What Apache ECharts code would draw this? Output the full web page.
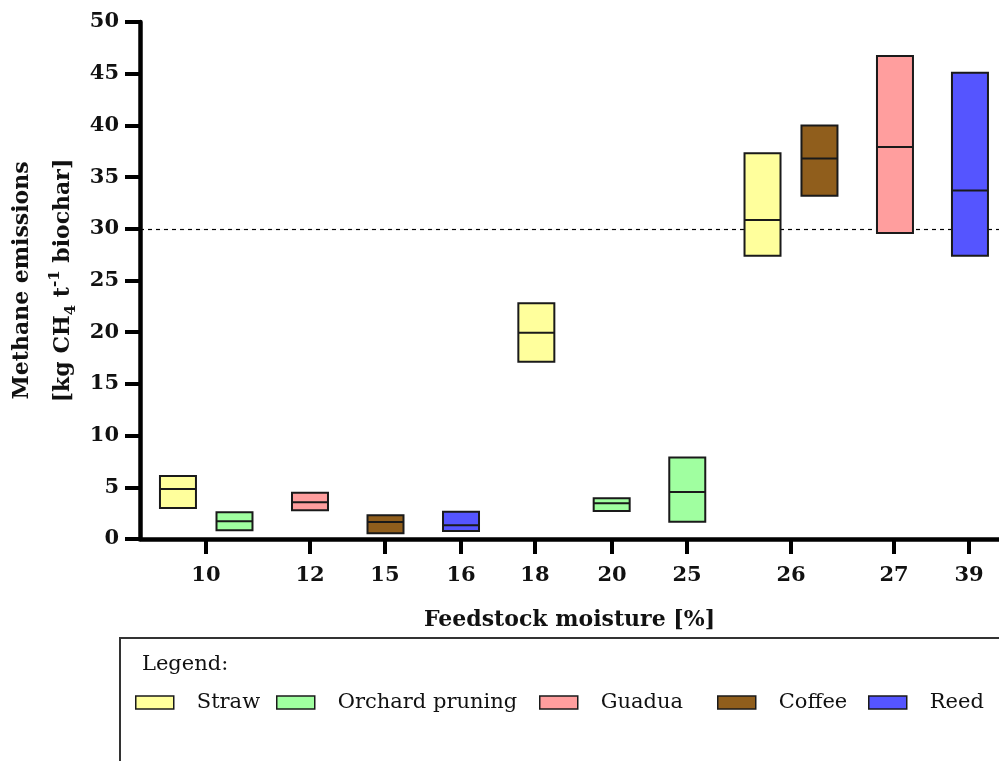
<!DOCTYPE html>
<html>
<head>
<meta charset="utf-8">
<script src="https://cdn.jsdelivr.net/npm/echarts@6/dist/echarts.min.js"></script>
<style>html,body{margin:0;padding:0;background:#fff;}#c{width:999px;height:761px;}</style>
</head>
<body>
<div id="c"></div>
<script>
// x positions are on a 0-100 scale along the axis
const tickPositions = [7.68, 19.79, 28.52, 37.37, 45.98, 54.95, 63.68, 75.79, 87.78, 96.51];
const tickLabels = ['10', '12', '15', '16', '18', '20', '25', '26', '27', '39'];

const species = ['Straw', 'Orchard pruning', 'Guadua', 'Coffee', 'Reed'];
const colors = ['#FFFF9C', '#A0FFA0', '#FF9E9E', '#905E1C', '#5555FF'];

const strawPos = [4.42, 46.14, 72.47];
const strawLow = [3.0, 17.15, 27.4];
const strawMed = [4.84, 19.95, 30.85];
const strawHigh = [6.1, 22.8, 37.3];

const orchardPos = [11.0, 54.91, 63.71];
const orchardLow = [0.84, 2.71, 1.68];
const orchardMed = [1.71, 3.45, 4.55];
const orchardHigh = [2.58, 3.93, 7.87];

const guaduaPos = [19.79, 87.89];
const guaduaLow = [2.77, 29.6];
const guaduaMed = [3.55, 37.9];
const guaduaHigh = [4.48, 46.7];

const coffeePos = [28.58, 79.10];
const coffeeLow = [0.55, 33.2];
const coffeeMed = [1.64, 36.8];
const coffeeHigh = [2.29, 40.0];

const reedPos = [37.37, 96.62];
const reedLow = [0.77, 27.4];
const reedMed = [1.32, 33.7];
const reedHigh = [2.64, 45.1];

const thresholdValue = 30;

const groups = [
  [strawPos, strawLow, strawMed, strawHigh],
  [orchardPos, orchardLow, orchardMed, orchardHigh],
  [guaduaPos, guaduaLow, guaduaMed, guaduaHigh],
  [coffeePos, coffeeLow, coffeeMed, coffeeHigh],
  [reedPos, reedLow, reedMed, reedHigh]
];

const BOX_W = 4.19;
const FONT = 'DejaVu Serif';

function renderItem(params, api) {
  const x = api.value(0), lo = api.value(1), med = api.value(2), hi = api.value(3);
  const pLo = api.coord([x, lo]);
  const pHi = api.coord([x, hi]);
  const pMed = api.coord([x, med]);
  const w = api.size([BOX_W, 0])[0];
  return {
    type: 'group',
    children: [
      { type: 'rect', shape: { x: pLo[0] - w / 2, y: pHi[1], width: w, height: pLo[1] - pHi[1] },
        style: { fill: api.visual('color'), stroke: '#1a1a1a', lineWidth: 2 } },
      { type: 'line', shape: { x1: pMed[0] - w / 2, y1: pMed[1], x2: pMed[0] + w / 2, y2: pMed[1] },
        style: { stroke: '#1a1a1a', lineWidth: 2 } }
    ]
  };
}

const series = species.map((name, i) => {
  const g = groups[i];
  const s = {
    name: name,
    type: 'custom',
    renderItem: renderItem,
    itemStyle: { color: colors[i] },
    encode: { x: 0, y: [1, 2, 3] },
    data: g[0].map((p, k) => [p, g[1][k], g[2][k], g[3][k]]),
    z: 3
  };
  if (i === 0) {
    s.markLine = {
      silent: true,
      symbol: ['none', 'none'],
      label: { show: false },
      lineStyle: { color: '#000', type: [4, 4], width: 1.2 },
      data: [{ yAxis: thresholdValue }],
      z: 1
    };
  }
  return s;
});

const legendLefts = [135, 276, 539, 717, 868];
const legends = species.map((name, i) => ({
  left: legendLefts[i],
  top: 689.5,
  padding: 0,
  orient: 'horizontal',
  itemWidth: 38,
  itemHeight: 13,
  icon: 'rect',
  selectedMode: false,
  textStyle: { fontFamily: FONT, fontSize: 21, color: '#111', padding: [0, 0, 0, 18], lineHeight: 26 },
  data: [{ name: name, itemStyle: { color: colors[i], borderColor: '#1a1a1a', borderWidth: 1.5 } }]
}));

const chart = echarts.init(document.getElementById('c'), null, { renderer: 'canvas' });
chart.setOption({
  animation: false,
  backgroundColor: '#fff',
  grid: { left: 140, right: 0, top: 22, bottom: 222, containLabel: false },
  xAxis: {
    type: 'value',
    min: 0,
    max: 100,
    splitLine: { show: false },
    axisLine: { show: true, onZero: false, lineStyle: { color: '#000', width: 4.5 } },
    axisTick: { show: true, length: 15, lineStyle: { color: '#000', width: 4 }, customValues: tickPositions },
    axisLabel: {
      customValues: tickPositions,
      margin: 26,
      fontFamily: FONT, fontSize: 21, fontWeight: 'bold', color: '#111',
      formatter: function (v) {
        let best = 0, bd = 1e9;
        tickPositions.forEach((p, k) => { const d = Math.abs(p - v); if (d < bd) { bd = d; best = k; } });
        return tickLabels[best];
      }
    },
    name: 'Feedstock moisture [%]',
    nameLocation: 'middle',
    nameGap: 70,
    nameTextStyle: { fontFamily: FONT, fontSize: 22, fontWeight: 'bold', color: '#111' }
  },
  yAxis: {
    type: 'value',
    min: 0,
    max: 50,
    interval: 5,
    splitLine: { show: false },
    axisLine: { show: true, lineStyle: { color: '#000', width: 4.5 } },
    axisTick: { show: true, length: 15, lineStyle: { color: '#000', width: 4 } },
    axisLabel: { margin: 21, fontFamily: FONT, fontSize: 21, fontWeight: 'bold', color: '#111' },
    name: '{t|Methane emissions}\n{t|[kg CH}{sub|4}{t| t}{sup|-1}{t| biochar]}',
    nameLocation: 'middle',
    nameRotate: 90,
    nameGap: 54,
    nameTextStyle: {
      fontFamily: FONT, fontSize: 22, fontWeight: 'bold', color: '#111',
      rich: {
        t: { fontFamily: FONT, fontSize: 22, fontWeight: 'bold', color: '#111', lineHeight: 41 },
        sub: { fontFamily: FONT, fontSize: 15, fontWeight: 'bold', color: '#111', lineHeight: 15, padding: [16, 0, 0, 0] },
        sup: { fontFamily: FONT, fontSize: 15, fontWeight: 'bold', color: '#111', lineHeight: 15, padding: [0, 0, 16, 0] }
      }
    }
  },
  legend: legends,
  graphic: [
    { type: 'rect', shape: { x: 120, y: 638, width: 900, height: 200 },
      style: { fill: 'none', stroke: '#333', lineWidth: 2 }, z: 0, silent: true },
    { type: 'text', x: 142, y: 665,
      style: { text: 'Legend:', font: '21px "DejaVu Serif"', fill: '#111', verticalAlign: 'middle', align: 'left' }, silent: true }
  ],
  series: series
});
</script>
</body>
</html>
